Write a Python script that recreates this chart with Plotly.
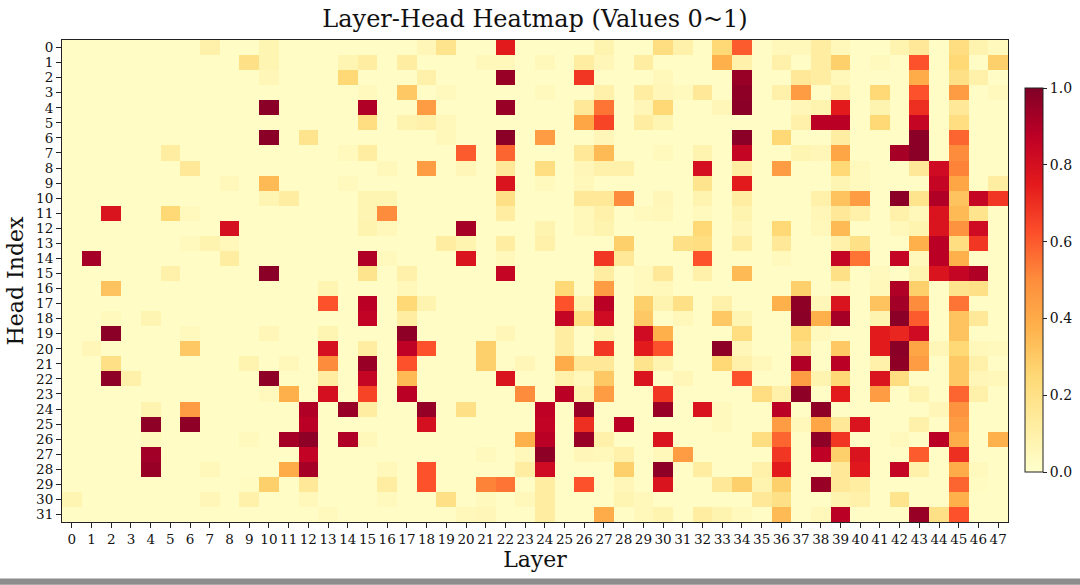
import plotly.graph_objects as go

layers = list(range(48))
heads = list(range(32))
layer_labels = [str(i) for i in layers]
head_labels = [str(i) for i in heads]
cbar_ticks = [0.0, 0.2, 0.4, 0.6, 0.8, 1.0]
cbar_labels = ["0.0", "0.2", "0.4", "0.6", "0.8", "1.0"]

values = [
    # head 0
    [.02,.02,.02,.02,.02,.02,.02,.10, .02,.02,.07,.02,.02,.02,.02,.02, .02,.02,.06,.18,.02,.02,.75,.02,
     .02,.02,.02,.08,.02,.02,.22,.10, .02,.25,.60,.02,.05,.05,.12,.05, .02,.02,.08,.15,.02,.22,.08,.04],
    # head 1
    [.02,.02,.02,.02,.02,.02,.02,.02, .02,.20,.07,.02,.02,.02,.07,.12, .02,.12,.02,.02,.02,.05,.05,.02,
     .05,.02,.12,.06,.02,.12,.02,.02, .02,.38,.10,.02,.10,.02,.12,.28, .02,.04,.02,.62,.02,.25,.02,.28],
    # head 2
    [.02,.02,.02,.02,.02,.02,.02,.02, .02,.02,.06,.02,.02,.02,.25,.02, .02,.02,.10,.02,.02,.02,.95,.02,
     .02,.02,.68,.02,.02,.02,.05,.02, .02,.02,.95,.02,.02,.15,.12,.05, .02,.02,.02,.40,.02,.20,.10,.02],
    # head 3
    [.02,.02,.02,.02,.02,.02,.02,.02, .02,.02,.02,.02,.02,.02,.02,.04, .02,.30,.02,.04,.02,.02,.02,.02,
     .04,.02,.02,.10,.02,.12,.06,.04, .15,.02,.97,.02,.10,.45,.02,.10, .02,.25,.02,.62,.02,.45,.02,.04],
    # head 4
    [.02,.02,.02,.02,.02,.02,.02,.02, .02,.02,.98,.02,.02,.02,.02,.90, .02,.02,.45,.02,.02,.02,.95,.02,
     .02,.02,.15,.55,.02,.06,.25,.02, .02,.06,.98,.02,.02,.06,.08,.75, .02,.08,.02,.70,.02,.15,.02,.02],
    # head 5
    [.02,.02,.02,.02,.02,.02,.02,.02, .02,.02,.02,.02,.02,.02,.02,.22, .02,.08,.10,.05,.02,.02,.02,.02,
     .02,.02,.42,.65,.02,.12,.07,.02, .02,.02,.02,.02,.02,.10,.88,.88, .02,.25,.02,.85,.02,.22,.02,.02],
    # head 6
    [.02,.02,.02,.02,.02,.02,.02,.02, .02,.02,.98,.02,.18,.02,.02,.02, .02,.02,.02,.05,.02,.02,.98,.02,
     .45,.02,.02,.06,.02,.02,.02,.02, .02,.02,.98,.02,.25,.02,.02,.12, .02,.02,.02,.98,.02,.58,.02,.02],
    # head 7
    [.02,.02,.02,.02,.02,.12,.02,.02, .02,.02,.02,.02,.02,.02,.04,.12, .02,.02,.02,.02,.60,.02,.58,.02,
     .02,.02,.15,.35,.02,.02,.04,.02, .08,.02,.85,.02,.02,.07,.06,.42, .02,.02,.92,.98,.02,.50,.02,.02],
    # head 8
    [.02,.02,.02,.02,.02,.02,.15,.02, .02,.02,.02,.02,.02,.02,.02,.02, .05,.02,.45,.02,.06,.02,.15,.02,
     .22,.02,.06,.10,.10,.02,.02,.02, .80,.02,.12,.02,.45,.02,.02,.25, .04,.02,.02,.15,.82,.52,.02,.02],
    # head 9
    [.02,.02,.02,.02,.02,.02,.02,.02, .05,.02,.35,.02,.02,.02,.04,.02, .02,.02,.02,.02,.02,.02,.78,.02,
     .04,.02,.05,.02,.02,.02,.02,.02, .18,.02,.75,.02,.02,.02,.02,.07, .04,.02,.02,.02,.85,.42,.02,.12],
    # head 10
    [.02,.02,.02,.02,.02,.02,.02,.02, .02,.02,.07,.12,.02,.02,.02,.07, .07,.02,.02,.02,.02,.02,.20,.02,
     .02,.02,.15,.15,.50,.02,.06,.02, .08,.02,.12,.02,.02,.02,.10,.32, .45,.02,.98,.18,.90,.32,.85,.68],
    # head 11
    [.02,.02,.78,.02,.02,.25,.04,.02, .02,.02,.02,.02,.02,.02,.02,.07, .50,.02,.02,.02,.02,.02,.12,.02,
     .02,.02,.05,.10,.02,.04,.05,.02, .04,.02,.08,.02,.02,.02,.06,.15, .10,.02,.10,.05,.78,.35,.18,.02],
    # head 12
    [.02,.02,.02,.02,.02,.02,.02,.02, .80,.02,.02,.02,.02,.02,.02,.08, .05,.02,.02,.02,.92,.02,.02,.02,
     .08,.02,.05,.08,.02,.02,.02,.02, .25,.02,.06,.02,.25,.02,.05,.35, .02,.02,.05,.08,.78,.48,.82,.02],
    # head 13
    [.02,.02,.02,.02,.02,.02,.04,.08, .05,.02,.02,.02,.02,.02,.02,.02, .02,.02,.02,.12,.08,.02,.12,.02,
     .10,.02,.02,.02,.28,.02,.02,.20, .22,.02,.12,.02,.15,.02,.02,.10, .20,.02,.02,.38,.88,.22,.68,.02],
    # head 14
    [.02,.92,.02,.02,.02,.02,.02,.02, .12,.02,.02,.02,.02,.02,.02,.90, .04,.02,.02,.02,.78,.02,.05,.02,
     .02,.02,.02,.68,.15,.02,.02,.02, .62,.02,.02,.02,.04,.02,.02,.85, .55,.02,.85,.05,.88,.38,.02,.02],
    # head 15
    [.02,.02,.02,.02,.02,.10,.02,.02, .02,.02,.98,.02,.02,.02,.02,.18, .02,.10,.02,.02,.02,.02,.85,.02,
     .02,.02,.02,.12,.02,.04,.15,.02, .10,.02,.35,.02,.02,.02,.02,.20, .02,.04,.02,.08,.78,.85,.90,.02],
    # head 16
    [.02,.02,.32,.02,.02,.02,.02,.02, .02,.02,.02,.02,.02,.07,.02,.02, .02,.05,.02,.02,.02,.02,.02,.02,
     .02,.25,.02,.45,.02,.04,.05,.02, .02,.02,.02,.02,.02,.28,.02,.06, .02,.05,.90,.28,.02,.18,.20,.02],
    # head 17
    [.02,.02,.02,.02,.02,.02,.02,.02, .02,.02,.02,.02,.02,.62,.02,.88, .02,.25,.08,.02,.02,.02,.02,.02,
     .02,.62,.08,.88,.02,.28,.08,.20, .02,.10,.02,.02,.38,.97,.06,.78, .02,.32,.93,.50,.02,.55,.02,.02],
    # head 18
    [.02,.02,.04,.02,.07,.02,.02,.02, .02,.02,.02,.02,.02,.02,.02,.86, .02,.12,.02,.02,.02,.02,.02,.02,
     .02,.85,.22,.82,.02,.30,.02,.05, .02,.30,.07,.02,.02,.98,.38,.92, .02,.08,.98,.60,.02,.32,.15,.02],
    # head 19
    [.02,.02,.98,.02,.02,.02,.04,.02, .02,.02,.06,.02,.02,.07,.02,.02, .02,.97,.02,.02,.02,.02,.06,.02,
     .02,.12,.02,.07,.02,.82,.38,.02, .02,.02,.22,.02,.02,.25,.04,.02, .02,.75,.72,.82,.02,.32,.02,.02],
    # head 20
    [.02,.06,.02,.02,.02,.02,.30,.02, .02,.02,.02,.02,.02,.80,.02,.12, .02,.87,.62,.02,.02,.28,.02,.02,
     .02,.12,.02,.68,.02,.75,.62,.02, .02,.97,.06,.02,.02,.20,.02,.30, .02,.75,.98,.42,.06,.25,.05,.04],
    # head 21
    [.02,.02,.20,.02,.02,.02,.02,.02, .02,.08,.02,.05,.02,.50,.02,.95, .02,.62,.02,.02,.02,.28,.02,.06,
     .02,.40,.15,.15,.02,.18,.08,.02, .02,.25,.10,.05,.02,.90,.02,.88, .02,.10,.97,.45,.02,.30,.10,.02],
    # head 22
    [.02,.02,.97,.10,.02,.02,.02,.02, .02,.02,.97,.02,.02,.12,.02,.85, .02,.35,.02,.02,.02,.02,.78,.02,
     .02,.10,.05,.30,.02,.78,.02,.06, .02,.02,.62,.02,.02,.45,.08,.25, .02,.78,.22,.02,.02,.30,.06,.05],
    # head 23
    [.02,.02,.02,.02,.02,.02,.02,.02, .02,.02,.04,.38,.02,.80,.02,.65, .02,.88,.02,.02,.02,.02,.02,.50,
     .02,.88,.08,.45,.02,.02,.68,.02, .02,.02,.02,.22,.10,.97,.02,.75, .02,.45,.02,.08,.02,.58,.10,.02],
    # head 24
    [.02,.02,.02,.02,.08,.02,.45,.02, .02,.02,.02,.02,.90,.02,.95,.12, .02,.02,.96,.02,.20,.02,.02,.02,
     .87,.02,.95,.02,.02,.02,.95,.02, .78,.04,.02,.02,.88,.02,.97,.02, .02,.02,.02,.02,.06,.48,.02,.02],
    # head 25
    [.02,.02,.02,.02,.97,.02,.97,.02, .02,.02,.02,.02,.88,.02,.02,.02, .02,.02,.80,.02,.02,.02,.02,.02,
     .86,.02,.70,.02,.88,.02,.02,.02, .02,.04,.02,.02,.45,.05,.42,.15, .78,.02,.02,.10,.02,.45,.02,.02],
    # head 26
    [.02,.02,.02,.02,.04,.02,.02,.02, .02,.04,.02,.92,.97,.02,.90,.05, .02,.02,.02,.02,.02,.02,.02,.38,
     .88,.02,.95,.10,.02,.02,.78,.02, .02,.02,.02,.22,.58,.02,.97,.68, .02,.02,.04,.02,.88,.40,.02,.38],
    # head 27
    [.02,.02,.02,.02,.93,.02,.02,.02, .02,.02,.02,.02,.86,.02,.02,.02, .02,.02,.02,.02,.02,.04,.02,.05,
     .97,.02,.06,.05,.10,.02,.05,.45, .02,.02,.02,.02,.68,.02,.87,.28, .78,.02,.02,.60,.02,.70,.02,.02],
    # head 28
    [.02,.02,.02,.02,.95,.02,.02,.05, .02,.02,.02,.40,.92,.02,.02,.02, .05,.02,.62,.02,.02,.02,.02,.12,
     .82,.02,.02,.02,.28,.02,.97,.02, .12,.02,.02,.10,.75,.02,.02,.15, .76,.02,.85,.10,.02,.40,.04,.02],
    # head 29
    [.02,.02,.02,.02,.02,.02,.02,.02, .02,.03,.28,.02,.15,.02,.02,.02, .12,.02,.62,.02,.02,.52,.55,.02,
     .12,.02,.62,.02,.06,.02,.78,.02, .02,.15,.28,.08,.28,.02,.95,.15, .12,.02,.02,.02,.02,.58,.03,.02],
    # head 30
    [.07,.02,.02,.02,.02,.02,.02,.06, .02,.10,.02,.02,.05,.02,.02,.02, .04,.02,.02,.20,.02,.04,.02,.05,
     .12,.02,.02,.02,.07,.05,.02,.02, .02,.02,.02,.15,.20,.02,.02,.08, .10,.02,.18,.02,.02,.38,.02,.02],
    # head 31
    [.02,.02,.02,.02,.02,.02,.02,.02, .02,.02,.02,.02,.02,.04,.02,.02, .02,.02,.02,.02,.05,.06,.02,.02,
     .12,.02,.02,.40,.02,.05,.08,.02, .12,.08,.04,.02,.35,.02,.05,.88, .02,.02,.02,.95,.20,.62,.02,.02],
]

ylorrd = [
    [0.0, "#ffffcc"], [0.125, "#ffeda0"], [0.25, "#fed976"], [0.375, "#feb24c"],
    [0.5, "#fd8d3c"], [0.625, "#fc4e2a"], [0.75, "#e31a1c"], [0.875, "#bd0026"],
    [1.0, "#800026"],
]

FONT = "DejaVu Serif"

fig = go.Figure(
    go.Heatmap(
        z=values,
        x=layers,
        y=heads,
        zmin=0,
        zmax=1,
        colorscale=ylorrd,
        colorbar=dict(
            x=1.018, xanchor="left", xref="paper", xpad=0,
            y=0.502, yanchor="middle", yref="paper", ypad=0,
            len=0.797, lenmode="fraction",
            thickness=18, thicknessmode="pixels",
            outlinewidth=1, outlinecolor="#222",
            tickvals=cbar_ticks, ticktext=cbar_labels,
            ticks="outside", ticklen=4, tickcolor="#222",
            tickfont=dict(family=FONT, size=14, color="#111"),
        ),
        hovertemplate="Layer %{x}<br>Head %{y}<br>%{z}<extra></extra>",
    )
)

fig.update_layout(
    width=1080,
    height=585,
    margin=dict(l=62, r=72, t=40, b=63, autoexpand=False),
    paper_bgcolor="white",
    plot_bgcolor="white",
    title=dict(
        text="Layer-Head Heatmap (Values 0~1)",
        x=0.5, xanchor="center", xref="paper",
        y=0.968, yanchor="middle", yref="container",
        font=dict(family=FONT, size=24, color="#111"),
    ),
    xaxis=dict(
        tickmode="array", tickvals=layers, ticktext=layer_labels,
        ticks="outside", ticklen=5, tickcolor="#222",
        tickfont=dict(family=FONT, size=13.5, color="#111"),
        showline=True, linecolor="#222", linewidth=1, mirror=True,
        showgrid=False, zeroline=False, automargin=False,
        range=[-0.5, 47.5],
        title=dict(text="Layer", font=dict(family=FONT, size=22, color="#111"), standoff=4),
    ),
    yaxis=dict(
        tickmode="array", tickvals=heads, ticktext=head_labels,
        ticks="outside", ticklen=5, tickcolor="#222",
        tickfont=dict(family=FONT, size=13.5, color="#111"),
        showline=True, linecolor="#222", linewidth=1, mirror=True,
        showgrid=False, zeroline=False, automargin=False,
        range=[31.5, -0.5],
        title=dict(text="Head Index", font=dict(family=FONT, size=22, color="#111"), standoff=6),
    ),
    shapes=[
        dict(type="rect", xref="paper", yref="paper",
             x0=-0.07, x1=1.08, y0=-0.13, y1=-0.117,
             fillcolor="#8c8c8c", line=dict(width=0), layer="above"),
    ],
)

fig.write_html(
    "out.html",
    config={"displayModeBar": False},
    post_script="document.body.style.margin='0';document.body.style.padding='0';document.body.style.overflow='hidden';",
)
